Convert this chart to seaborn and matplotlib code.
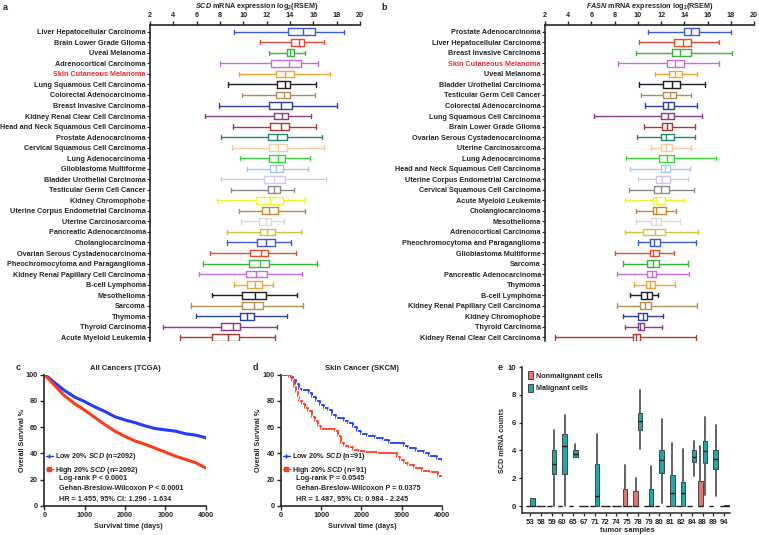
import numpy as np
import pandas as pd
import matplotlib
matplotlib.use("Agg")
import matplotlib.pyplot as plt
import seaborn as sns
from matplotlib.patches import Patch
from matplotlib.lines import Line2D

# ---------------- data ----------------
scd_types = ["Liver Hepatocellular Carcinoma", "Brain Lower Grade Glioma", "Uveal Melanoma",
             "Adrenocortical Carcinoma", "Skin Cutaneous Melanoma", "Lung Squamous Cell Carcinoma",
             "Colorectal Adenocarcinoma", "Breast Invasive Carcinoma", "Kidney Renal Clear Cell Carcinoma",
             "Head and Neck Squamous Cell Carcinoma", "Prostate Adenocarcinoma",
             "Cervical Squamous Cell Carcinoma", "Lung Adenocarcinoma", "Glioblastoma Multiforme",
             "Bladder Urothelial Carcinoma", "Testicular Germ Cell Cancer", "Kidney Chromophobe",
             "Uterine Corpus Endometrial Carcinoma", "Uterine Carcinosarcoma", "Pancreatic Adenocarcinoma",
             "Cholangiocarcinoma", "Ovarian Serous Cystadenocarcinoma", "Pheochromocytoma and Paraganglioma",
             "Kidney Renal Papillary Cell Carcinoma", "B-cell Lymphoma", "Mesothelioma", "Sarcoma",
             "Thymoma", "Thyroid Carcinoma", "Acute Myeloid Leukemia"]
scd_wlo = [9.2, 11.4, 12.2, 8.0, 9.6, 8.7, 9.9, 7.9, 6.7, 9.1, 8.1, 9.0, 9.7, 10.3, 8.1,
           8.9, 7.7, 9.6, 9.8, 8.6, 8.6, 7.1, 6.5, 6.2, 9.2, 7.3, 5.5, 5.9, 3.1, 4.6]
scd_q1 = [13.8, 14.1, 13.7, 12.4, 12.8, 12.9, 12.8, 12.2, 12.6, 12.3, 12.1, 12.2, 12.2, 12.3, 11.8,
          12.1, 11.1, 11.6, 11.3, 11.4, 11.2, 10.6, 10.5, 10.2, 10.3, 9.9, 9.9, 9.7, 8.1, 7.3]
scd_med = [15.1, 14.8, 14.0, 13.9, 13.6, 13.6, 13.5, 13.2, 13.3, 13.2, 12.9, 13.0, 13.0, 12.8, 12.6,
           12.6, 12.3, 12.2, 11.9, 12.0, 11.9, 11.5, 11.4, 11.1, 11.0, 11.0, 10.9, 10.3, 9.1, 8.7]
scd_q3 = [16.1, 15.2, 14.3, 14.9, 14.3, 14.0, 14.0, 14.2, 13.8, 13.9, 13.7, 13.7, 13.6, 13.4, 13.6,
          13.1, 13.4, 13.0, 12.4, 12.7, 12.7, 12.1, 12.2, 12.0, 11.6, 11.9, 11.7, 10.9, 9.7, 9.6]
scd_whi = [18.6, 16.9, 15.3, 16.4, 17.4, 16.2, 16.1, 18.0, 15.8, 16.2, 16.7, 16.9, 15.7, 15.5, 17.1,
           14.3, 15.2, 15.3, 13.5, 14.9, 14.1, 14.5, 16.3, 15.0, 12.5, 14.6, 15.1, 13.7, 12.9, 12.7]

fasn_types = ["Prostate Adenocarcinoma", "Liver Hepatocellular Carcinoma", "Breast Invasive Carcinoma",
              "Skin Cutaneous Melanoma", "Uveal Melanoma", "Bladder Urothelial Carcinoma",
              "Testicular Germ Cell Cancer", "Colorectal Adenocarcinoma", "Lung Squamous Cell Carcinoma",
              "Brain Lower Grade Glioma", "Ovarian Serous Cystadenocarcinoma", "Uterine Carcinosarcoma",
              "Lung Adenocarcinoma", "Head and Neck Squamous Cell Carcinoma",
              "Uterine Corpus Endometrial Carcinoma", "Cervical Squamous Cell Carcinoma",
              "Acute Myeloid Leukemia", "Cholangiocarcinoma", "Mesothelioma", "Adrenocortical Carcinoma",
              "Pheochromocytoma and Paraganglioma", "Glioblastoma Multiforme", "Sarcoma",
              "Pancreatic Adenocarcinoma", "Thymoma", "B-cell Lymphoma",
              "Kidney Renal Papillary Cell Carcinoma", "Kidney Chromophobe", "Thyroid Carcinoma",
              "Kidney Renal Clear Cell Carcinoma"]
fasn_wlo = [10.9, 10.1, 9.8, 8.3, 11.5, 10.1, 10.3, 10.6, 6.2, 10.5, 9.9, 11.1, 9.0, 9.3, 10.0,
            9.2, 8.9, 9.8, 9.8, 8.9, 10.0, 8.0, 8.7, 8.2, 9.7, 9.3, 8.2, 8.7, 8.9, 2.9]
fasn_q1 = [14.0, 13.1, 12.9, 12.5, 12.7, 12.2, 12.2, 12.2, 12.0, 12.1, 12.0, 12.0, 11.8, 12.0, 11.6,
           11.4, 11.3, 11.3, 11.1, 10.4, 11.0, 11.0, 10.8, 10.8, 10.7, 10.3, 10.2, 10.0, 10.0, 9.6]
fasn_med = [14.6, 13.9, 13.6, 13.2, 13.2, 12.9, 12.8, 12.6, 12.6, 12.5, 12.4, 12.4, 12.5, 12.3, 12.1,
            12.0, 11.6, 11.6, 11.6, 11.5, 11.4, 11.3, 11.3, 11.2, 11.0, 10.8, 10.6, 10.4, 10.2, 9.8]
fasn_q3 = [15.3, 14.6, 14.6, 14.0, 13.8, 13.6, 13.3, 13.1, 13.1, 12.9, 13.1, 12.9, 13.1, 12.8, 12.8,
           12.7, 12.3, 12.4, 12.0, 12.3, 11.9, 11.8, 11.8, 11.6, 11.5, 11.2, 11.1, 10.8, 10.5, 10.2]
fasn_whi = [18.0, 17.0, 18.1, 17.0, 15.1, 15.8, 14.6, 15.1, 15.5, 14.9, 14.9, 14.6, 16.7, 14.5, 14.3,
            14.8, 14.0, 13.3, 13.6, 15.2, 15.0, 13.1, 14.3, 14.4, 13.2, 11.7, 15.1, 12.2, 12.1, 15.0]

c_days = [0, 100, 250, 500, 750, 1000, 1250, 1500, 1750, 2000, 2250, 2500, 2750, 3000,
          3250, 3500, 3750, 4000]
c_low = [100, 98, 94, 88, 83, 79.5, 75.5, 72, 68, 65.5, 63.5, 61, 59, 58, 57, 55, 54, 52]
c_high = [100, 97, 92, 84, 78, 73, 67.5, 62, 57, 53, 49.5, 47, 44, 41, 38, 35.5, 33, 29]

d_low_days = [0, 250, 300, 380, 450, 520, 700, 780, 880, 980, 1080, 1180, 1280, 1380, 1580, 1680,
              1780, 1880, 1980, 2150, 2350, 2550, 2680, 3050, 3150, 3350, 3550, 3680, 3880, 4000]
d_low = [100, 98, 96, 93, 89, 88, 86, 83, 80, 77, 75, 73, 69, 67, 65, 63, 60, 57, 55, 53, 52, 50,
         48, 46, 44, 42, 40, 38, 36, 35]
d_high_days = [0, 200, 280, 330, 380, 420, 460, 520, 600, 680, 760, 840, 920, 1000, 1350, 1420,
               1500, 1580, 1700, 1800, 1950, 2100, 2400, 2880, 2950, 3050, 3150, 3300, 3500, 3700,
               3900, 4000]
d_high = [100, 98, 95, 91, 87, 83, 80, 78, 75, 72, 68, 65, 61, 59, 57, 53, 48, 46, 45, 43, 42, 41,
          40, 37, 35, 33, 31, 29, 27, 26, 23, 23]

e_samples = ["53", "58", "59", "60", "65", "67", "71", "72", "74", "75", "78", "79", "80", "81",
             "82", "84", "88", "89", "94"]
e_non_lo = [0] * 19
e_non_q1 = [0] * 19
e_non_med = [0] * 19
e_non_q3 = [0, 0, 0, 0, 0, 0, 0, 0, 0, 1.2, 1.05, 0, 0, 0, 0, 0, 1.8, 0, 0]
e_non_hi = [0, 0, 0, 0, 0, 0, 0, 0, 0, 2.95, 2.05, 0, 0, 0, 0, 0, 4.3, 0, 0]
e_mal_lo = [0, 0, 0, 0, 3.5, 0, 0, 0, 0, 0, 4.1, 0, 0.25, 0, 0, 2.15, 0.8, 0.7, 0]
e_mal_q1 = [0, 0, 2.3, 2.27, 3.5, 0, 0, 0, 0, 0, 5.5, 0, 2.4, 0, 0, 3.2, 3.1, 2.65, 0]
e_mal_med = [0, 0, 3.05, 4.3, 3.75, 0, 0.75, 0, 0, 0, 6.1, 0, 3.3, 0.95, 0.95, 3.5, 3.95, 3.35, 0]
e_mal_q3 = [0.6, 0, 4.0, 5.15, 4.05, 0, 3.05, 0, 0, 0, 6.7, 1.2, 4.0, 2.2, 1.7, 4.0, 4.7, 4.0, 0.05]
e_mal_hi = [0.6, 0, 5.45, 6.55, 4.45, 0, 5.15, 0, 0, 0, 8.35, 2.9, 6.25, 4.5, 4.1, 4.65, 6.4, 5.85, 0.05]

# ---------------- style ----------------
W, H = 759, 535
sns.set_style("ticks")
plt.rcParams['font.family'] = ['Liberation Sans', 'DejaVu Sans']
plt.rcParams['font.weight'] = 'bold'
plt.rcParams['axes.labelweight'] = 'bold'
plt.rcParams['mathtext.fontset'] = 'custom'
plt.rcParams['mathtext.rm'] = 'Liberation Sans:bold'
plt.rcParams['mathtext.it'] = 'Liberation Sans:italic:bold'
plt.rcParams['mathtext.bf'] = 'Liberation Sans:bold'

palette20 = ["#3a5ae0", "#ec4a2c", "#35b835", "#c86ae8", "#f5a431", "#1e1e1e", "#b58d55",
             "#2a3ea8", "#8a3a88", "#b0392f", "#1e8c6c", "#f8c9a3", "#3ad83a", "#a9c9f2",
             "#c9c9f3", "#8a8a8a", "#f2f230", "#c8862d", "#dcdcdc", "#c9c53c"]
FS = 5.2


def rect(l, t, r, b):
    return [l / W, 1 - b / H, (r - l) / W, (b - t) / H]


def ftext(x, y, s, **kw):
    fig.text(x / W, 1 - y / H, s, **kw)


fig = plt.figure(figsize=(W / 100, H / 100), dpi=100)


def box_panel(axr, types, wlo, q1, med, q3, whi, title, tx):
    ax = fig.add_axes(axr)
    n = len(types)
    stats = [dict(whislo=wlo[i], q1=q1[i], med=med[i], q3=q3[i], whishi=whi[i], label=types[i])
             for i in range(n)]
    art = ax.bxp(stats, positions=list(range(n)), orientation='horizontal', widths=0.64,
                 showfliers=False, capwidths=0.42, manage_ticks=False,
                 boxprops=dict(lw=1.0), whiskerprops=dict(lw=1.0), capprops=dict(lw=1.0),
                 medianprops=dict(lw=1.0))
    for i in range(n):
        col = palette20[i % 20]
        art['boxes'][i].set_color(col)
        art['medians'][i].set_color(col)
        for k in (2 * i, 2 * i + 1):
            art['whiskers'][k].set_color(col)
            art['caps'][k].set_color(col)
    ax.set_xlim(2, 20)
    ax.set_xticks(np.arange(2, 21, 2))
    ax.set_ylim(29.35, -0.64)
    ax.set_yticks(range(n))
    ax.set_yticklabels(types, fontsize=FS, fontweight='bold')
    for lab in ax.get_yticklabels():
        if lab.get_text() == "Skin Cutaneous Melanoma":
            lab.set_color("#ee2a2a")
    ax.xaxis.tick_top()
    ax.tick_params(axis='x', labelsize=FS, length=3, width=1.0, pad=1.5, direction='out')
    ax.tick_params(axis='y', length=2, width=0.8, pad=1, direction='out')
    for lab in ax.get_xticklabels():
        lab.set_fontweight('bold')
    ax.spines['bottom'].set_visible(False)
    ax.spines['right'].set_visible(False)
    ax.spines['top'].set_linewidth(1.2)
    ax.spines['left'].set_linewidth(1.2)
    ftext(tx, 6, title, ha='center', va='center', fontsize=FS, fontweight='bold')
    return ax


box_panel(rect(150, 25, 360, 341), scd_types, scd_wlo, scd_q1, scd_med, scd_q3, scd_whi,
          r"$\mathit{SCD}$ mRNA expression log$_2$(RSEM)", 257)
box_panel(rect(545, 25, 754, 341), fasn_types, fasn_wlo, fasn_q1, fasn_med, fasn_q3, fasn_whi,
          r"$\mathit{FASN}$ mRNA expression log$_2$(RSEM)", 650)

BLUE = "#1f3cff"
RED = "#ff3b16"


def surv_panel(axr, lowx, lowy, highx, highy, steps, n, stats_lines, title, tcx,
               leg_x, ylab_x, xl_x):
    ax = fig.add_axes(axr)
    kw = dict(drawstyle='steps-post') if steps else {}
    mk = dict(marker='|', markersize=3, markeredgewidth=0.8) if steps else {}
    lw = 1.3 if steps else 2.2
    sns.lineplot(x=lowx, y=lowy, ax=ax, color=BLUE, lw=lw, estimator=None, sort=False, **kw, **mk)
    sns.lineplot(x=highx, y=highy, ax=ax, color=RED, lw=lw, estimator=None, sort=False, **kw, **mk)
    ax.set_xlim(0, 4000)
    ax.set_ylim(0, 100)
    ax.set_xticks([0, 1000, 2000, 3000, 4000])
    ax.set_yticks([0, 20, 40, 60, 80, 100])
    ax.tick_params(labelsize=FS, length=3, width=1.0, pad=1.5)
    for lab in ax.get_xticklabels() + ax.get_yticklabels():
        lab.set_fontweight('bold')
    sns.despine(ax=ax)
    ax.spines['left'].set_linewidth(1.2)
    ax.spines['bottom'].set_linewidth(1.2)
    ax.set_xlabel("")
    ax.set_ylabel("")
    handles = [Line2D([], [], color=BLUE, lw=1.0, marker='+', markersize=3.5, markeredgewidth=1.0),
               Line2D([], [], color=RED, lw=1.0, marker='s', markersize=2.5)]
    labels = [r"Low 20% $\mathit{SCD}$ (n=" + str(n) + ")",
              r"High 20% $\mathit{SCD}$ (n=" + str(n) + ")"]
    fig.legend(handles, labels, loc='center left',
               bbox_to_anchor=(leg_x / W, 1 - 463.5 / H), frameon=False, fontsize=FS,
               handlelength=0.9, handletextpad=0.3, labelspacing=0.28, borderpad=0, borderaxespad=0)
    for i, s in enumerate(stats_lines):
        ftext(leg_x + 13, 478.5 + 10.5 * i, s, ha='left', va='center',
              fontsize=FS, fontweight='bold')
    ftext(tcx, 368, title, ha='center', va='center', fontsize=FS + 0.3, fontweight='bold')
    ftext(ylab_x, 440, "Overall Survival %", rotation=90, ha='center', va='center',
          fontsize=FS, fontweight='bold')
    ftext(xl_x, 527, "Survival time (days)", ha='center', va='center', fontsize=FS, fontweight='bold')
    return ax


surv_panel(rect(44.3, 374.7, 205.7, 506), c_days, c_low, c_days, c_high, False, 2092,
           ["Log-rank P < 0.0001", "Gehan-Breslow-Wilcoxon P < 0.0001",
            "HR = 1.455, 95% CI: 1.296 - 1.634"], "All Cancers (TCGA)", 125, 46, 22.5, 128)
surv_panel(rect(281, 374.7, 441.7, 506), d_low_days, d_low, d_high_days, d_high, True, 91,
           ["Log-rank P = 0.0545", "Gehan-Breslow-Wilcoxon P = 0.0375",
            "HR = 1.487, 95% CI: 0.984 - 2.245"], "Skin Cancer (SKCM)", 362, 283, 258, 362)

# ---------------- panel e ----------------
axe = fig.add_axes(rect(522, 367, 730, 513))
NONC = "#e5736b"
MALC = "#1fa8a8"
ns = len(e_samples)
pos = np.arange(ns)
non_stats = [dict(whislo=e_non_lo[i], q1=e_non_q1[i], med=e_non_med[i], q3=e_non_q3[i],
                  whishi=e_non_hi[i]) for i in range(ns)]
mal_stats = [dict(whislo=e_mal_lo[i], q1=e_mal_q1[i], med=e_mal_med[i], q3=e_mal_q3[i],
                  whishi=e_mal_hi[i]) for i in range(ns)]
common = dict(orientation='vertical', widths=0.42, showfliers=False, showcaps=False,
              patch_artist=True, manage_ticks=False,
              whiskerprops=dict(color="#555555", lw=1.3),
              medianprops=dict(color="#1a1a1a", lw=1.0))
axe.bxp(non_stats, positions=list(pos - 0.21),
        boxprops=dict(facecolor=NONC, edgecolor="#333333", lw=0.6), **common)
axe.bxp(mal_stats, positions=list(pos + 0.21),
        boxprops=dict(facecolor=MALC, edgecolor="#333333", lw=0.6), **common)
axe.set_xlim(-0.75, 18.55)
axe.set_ylim(-0.5, 10)
axe.set_xticks(pos)
axe.set_xticklabels(e_samples)
axe.set_yticks([0, 2, 4, 6, 8, 10])
axe.tick_params(labelsize=FS + 0.4, length=2.5, width=0.9, pad=1.5)
sns.despine(ax=axe)
axe.spines['left'].set_linewidth(1.1)
axe.spines['bottom'].set_linewidth(1.1)
ehandles = [Patch(facecolor=NONC, edgecolor="#333333", lw=0.6),
            Patch(facecolor=MALC, edgecolor="#333333", lw=0.6)]
fig.legend(ehandles, ["Nonmalignant cells", "Malignant cells"], loc='upper left',
           bbox_to_anchor=(528 / W, 1 - 371 / H), frameon=False, fontsize=FS,
           handlelength=0.75, handleheight=1.4, handletextpad=0.3, labelspacing=0.55,
           borderpad=0, borderaxespad=0)
ftext(503, 440, "SCD mRNA counts", rotation=90, ha='center', va='center', fontsize=FS,
      fontweight='bold')
ftext(627, 531, "tumor samples", ha='center', va='center', fontsize=FS + 0.3, fontweight='bold')

# panel letters
for lt, x, y in [("a", 5, 8), ("b", 384, 8), ("c", 18, 367), ("d", 255, 367), ("e", 500, 367)]:
    ftext(x, y, lt, ha='center', va='center', fontsize=6.5, fontweight='bold')

fig.savefig("out.png", dpi=100)
